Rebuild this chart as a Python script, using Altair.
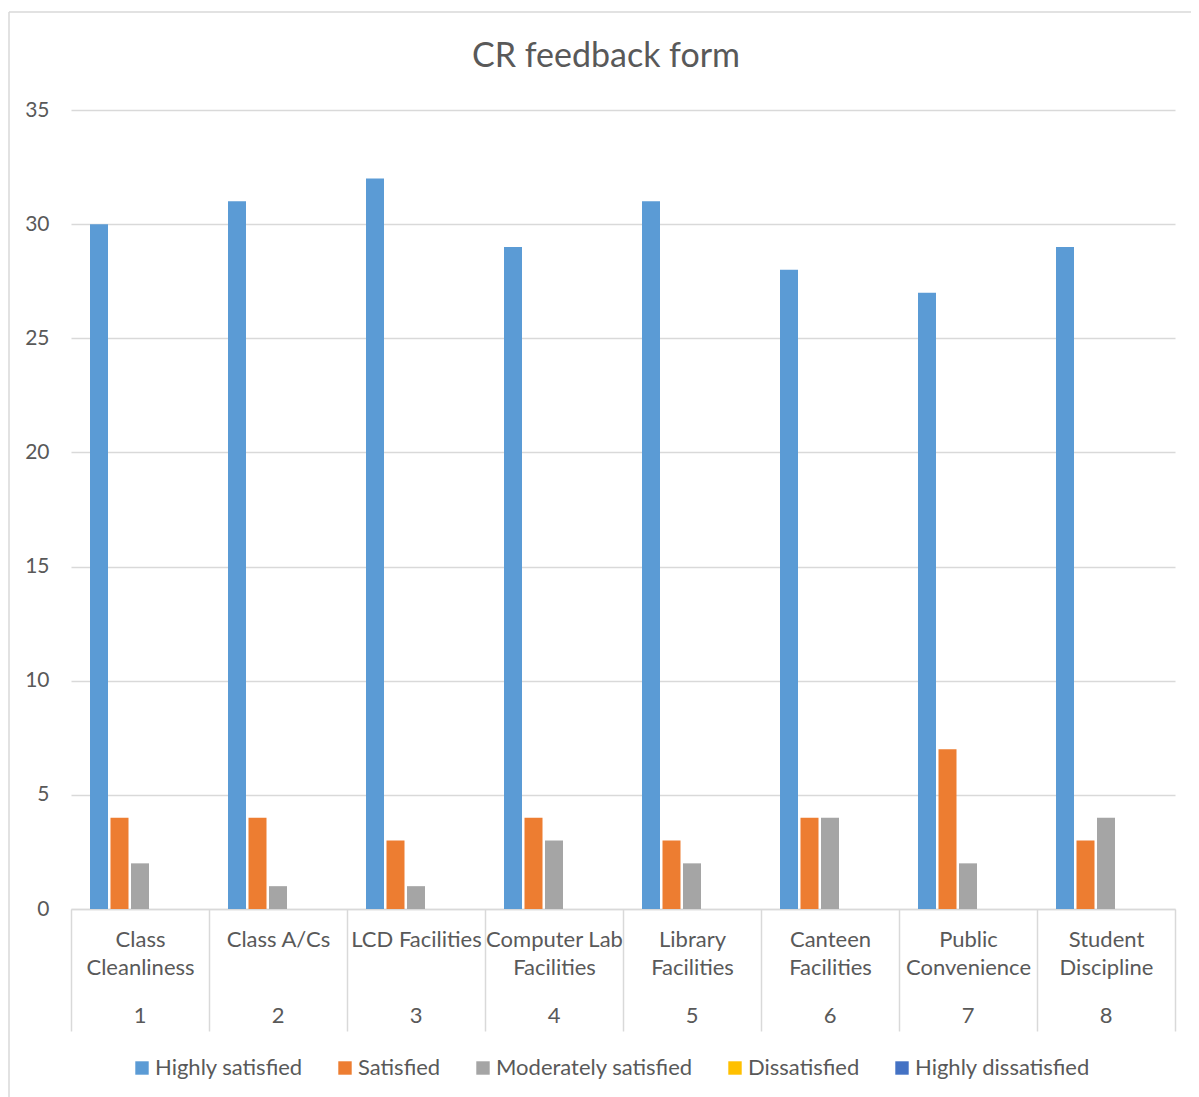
import altair as alt
import pandas as pd

# ---- data ----
category_names = ["Class|Cleanliness", "Class A/Cs", "LCD Facilities", "Computer Lab|Facilities",
                  "Library|Facilities", "Canteen|Facilities", "Public|Convenience", "Student|Discipline"]
category_numbers = ["1", "2", "3", "4", "5", "6", "7", "8"]
series_names = ["Highly satisfied", "Satisfied", "Moderately satisfied", "Dissatisfied", "Highly dissatisfied"]
highly_satisfied = [30, 31, 32, 29, 31, 28, 27, 29]
satisfied = [4, 4, 3, 4, 3, 4, 7, 3]
moderately_satisfied = [2, 1, 1, 3, 2, 4, 2, 4]
dissatisfied = [0, 0, 0, 0, 0, 0, 0, 0]
highly_dissatisfied = [0, 0, 0, 0, 0, 0, 0, 0]
series_colors = ["#5B9BD5", "#ED7D31", "#A5A5A5", "#FFC000", "#4472C4"]
y_ticks = [0, 5, 10, 15, 20, 25, 30, 35]

series_values = [highly_satisfied, satisfied, moderately_satisfied, dissatisfied, highly_dissatisfied]

rows = []
for s, vals in zip(series_names, series_values):
    for lab, v in zip(category_names, vals):
        rows.append({"label": lab, "series": s, "value": v})
df = pd.DataFrame(rows)
num_df = pd.DataFrame({"label": category_names, "number": category_numbers})

FONT = "Lato"
TXT = "#595959"
GRID = "#D9D9D9"

x_enc = alt.X("label:N", sort=category_names,
              scale=alt.Scale(paddingInner=0, paddingOuter=0),
              axis=alt.Axis(title=None, labelAngle=0, labelExpr="split(datum.label, '|')",
                            labelFont=FONT, labelFontSize=22, labelColor=TXT,
                            labelLineHeight=28, labelPadding=-102, labelLimit=300,
                            labelOverlap=False, domainColor=GRID, domainWidth=1.5,
                            tickColor=GRID, tickWidth=1.5, tickSize=122, tickBand="extent"))

bars = alt.Chart(df).mark_bar().encode(
    x=x_enc,
    xOffset=alt.XOffset("series:N", sort=series_names,
                        scale=alt.Scale(paddingInner=0.122, paddingOuter=0.927)),
    y=alt.Y("value:Q", scale=alt.Scale(domain=[0, 35], nice=False),
            axis=alt.Axis(title=None, values=y_ticks, grid=True, gridColor=GRID, gridWidth=1.5,
                          domain=False, ticks=False, labelPadding=22, labelFont=FONT,
                          labelFontSize=21, labelColor=TXT)),
    color=alt.Color("series:N", sort=series_names,
                    scale=alt.Scale(domain=series_names, range=series_colors),
                    legend=alt.Legend(title=None, orient="none", direction="horizontal",
                                      legendX=60, legendY=947, symbolType="square",
                                      symbolSize=180, symbolStrokeWidth=0, labelFont=FONT,
                                      labelFontSize=22, labelColor=TXT, labelOffset=2,
                                      columnPadding=31, labelLimit=400)),
)

# second row of the category axis: the category numbers
numbers = alt.Chart(num_df).mark_text(font=FONT, fontSize=22, color=TXT, baseline="middle",
                                      align="center").encode(
    x=alt.X("label:N", sort=category_names),
    y=alt.value(906),
    text="number:N",
)

frame = alt.Data(values=[{"k": 1}])
top_line = alt.Chart(frame).mark_rule(color=GRID, strokeWidth=1.5).encode(
    x=alt.value(-62), x2=alt.value(1200), y=alt.value(-98))
left_line = alt.Chart(frame).mark_rule(color=GRID, strokeWidth=1.5).encode(
    x=alt.value(-62), y=alt.value(-98), y2=alt.value(1100))

chart = alt.layer(bars, numbers, top_line, left_line).properties(
    width=1104, height=799,
    title=alt.TitleParams(text="CR feedback form", font=FONT, fontSize=34, fontWeight="normal",
                          color=TXT, anchor="middle", dx=-17, offset=0, dy=63),
    autosize=alt.AutoSizeParams(type="none"),
    padding={"left": 63, "top": 102, "right": 16, "bottom": 190},
).configure_view(stroke=None)

chart.save("out.html", embed_options={"renderer": "svg", "actions": False})
